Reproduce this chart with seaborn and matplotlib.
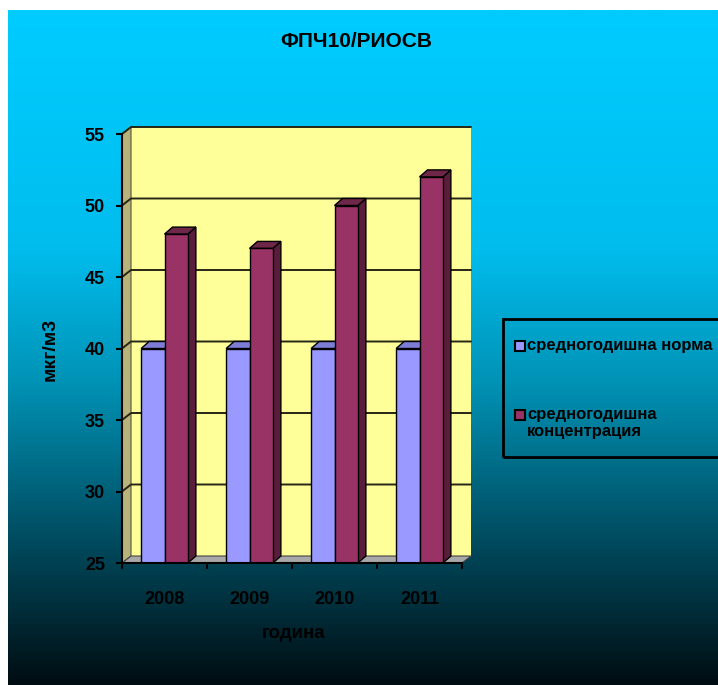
import numpy as np
import pandas as pd
import matplotlib
matplotlib.use("Agg")
import matplotlib.pyplot as plt
from matplotlib.patches import Polygon, Rectangle
from matplotlib.colors import LinearSegmentedColormap
import seaborn as sns

# ---- data ----
years = ["2008", "2009", "2010", "2011"]
series = ["средногодишна норма", "средногодишна\nконцентрация"]
norma = [40, 40, 40, 40]
koncentracia = [48, 47, 50, 52]
title = "ФПЧ10/РИОСВ"
xlabel = "година"
ylabel = "мкг/м3"
yticks = [25, 30, 35, 40, 45, 50, 55]

sns.set_theme(style="white")
plt.rcParams["font.family"] = ["Liberation Sans", "DejaVu Sans"]
plt.rcParams["font.weight"] = "bold"

W, H = 718, 685
fig = plt.figure(figsize=(W / 100, H / 100), dpi=100)
fig.patch.set_facecolor("white")

# gradient background
bg = fig.add_axes([8 / W, 0, 1 - 8 / W, 1 - 10 / H], zorder=-5)
cmap = LinearSegmentedColormap.from_list(
    "bg", [(0.0, "#00ccff"), (0.35, "#00bdee"), (0.55, "#0093b6"),
           (0.75, "#00566c"), (1.0, "#000d12")])
grad = np.linspace(0, 1, 256).reshape(-1, 1)
bg.imshow(grad, aspect="auto", cmap=cmap, extent=[0, 1, 0, 1], origin="upper")
bg.set_axis_off()

# main axes = front plane
left, right, top, bottom = 122, 462, 134, 563
ax = fig.add_axes([left / W, (H - bottom) / H, (right - left) / W, (bottom - top) / H])
ax.set_facecolor("none")

df = pd.DataFrame({
    "year": years * 2,
    "value": norma + koncentracia,
    "series": [series[0]] * 4 + [series[1]] * 4,
})
c_norm, c_conc = "#9999ff", "#993366"
sns.barplot(data=df, x="year", y="value", hue="series", palette=[c_norm, c_conc],
            width=0.55, saturation=1, edgecolor="black", linewidth=1.0,
            legend=False, ax=ax, zorder=3)

ax.set_xlim(-0.5, 3.5)
ax.set_ylim(25, 55)
ymin, ymax = 25, 55
sx = 4 / (right - left)
sy = 30 / (bottom - top)
dxw, dyw = 9 * sx, 7 * sy   # wall depth
dxb, dyb = 8 * sx, 7 * sy   # bar depth

# back wall
ax.add_patch(Polygon([(-0.5 + dxw, ymin + dyw), (3.5 + dxw, ymin + dyw),
                      (3.5 + dxw, ymax + dyw), (-0.5 + dxw, ymax + dyw)],
                     closed=True, facecolor="#ffff99", edgecolor="none",
                     clip_on=False, zorder=0))
# left side wall
ax.add_patch(Polygon([(-0.5, ymin), (-0.5 + dxw, ymin + dyw),
                      (-0.5 + dxw, ymax + dyw), (-0.5, ymax)],
                     closed=True, facecolor="#b8b37a", edgecolor="#555533",
                     linewidth=0.8, clip_on=False, zorder=0.5))
# floor
ax.add_patch(Polygon([(-0.5, ymin), (3.5, ymin), (3.5 + dxw, ymin + dyw),
                      (-0.5 + dxw, ymin + dyw)],
                     closed=True, facecolor="#a8a8a8", edgecolor="#444444",
                     linewidth=0.8, clip_on=False, zorder=0.6))
# gridlines on wall
for v in yticks[1:]:
    ax.plot([-0.5, -0.5 + dxw, 3.5 + dxw], [v, v + dyw, v + dyw],
            color="#262614", linewidth=1.4, clip_on=False, zorder=1)

# 3D faces of bars
side_cols = {c_norm: ("#6a6ab8", "#7d7dd6"), c_conc: ("#5a1e3c", "#6e2649")}
for p in list(ax.patches):
    if not isinstance(p, Rectangle) or p.get_height() <= ymin:
        continue
    x0, w, h = p.get_x(), p.get_width(), p.get_height()
    fc = matplotlib.colors.to_hex(p.get_facecolor())
    if fc not in side_cols:
        continue
    side, topc = side_cols[fc]
    z = p.get_zorder() + (0.5 if fc == c_conc else 0)
    p.set_zorder(z)
    ax.add_patch(Polygon([(x0 + w, ymin), (x0 + w + dxb, ymin + dyb),
                          (x0 + w + dxb, h + dyb), (x0 + w, h)],
                         closed=True, facecolor=side, edgecolor="black",
                         linewidth=1.0, zorder=z - 0.1, clip_on=False))
    ax.add_patch(Polygon([(x0, h), (x0 + w, h), (x0 + w + dxb, h + dyb),
                          (x0 + dxb, h + dyb)],
                         closed=True, facecolor=topc, edgecolor="black",
                         linewidth=1.0, zorder=z - 0.1, clip_on=False))

# axes styling
for s in ["top", "right"]:
    ax.spines[s].set_visible(False)
for s in ["left", "bottom"]:
    ax.spines[s].set_color("black")
    ax.spines[s].set_linewidth(1.5)
    ax.spines[s].set_zorder(6)
ax.set_yticks(yticks)
ax.set_yticklabels([str(v) for v in yticks])
ax.tick_params(axis="y", which="major", direction="out", length=4.3, width=1.5,
               color="black", pad=8, labelsize=13, labelcolor="black", left=True)
ax.set_xticks(range(len(years)))
ax.set_xticklabels(years)
ax.set_xticks([-0.5, 0.5, 1.5, 2.5, 3.5], minor=True)
ax.tick_params(axis="x", which="major", length=0, pad=20, labelsize=13,
               labelcolor="black")
ax.tick_params(axis="x", which="minor", direction="out", length=4.3, width=1.5,
               color="black", bottom=True)
for lab in ax.get_xticklabels() + ax.get_yticklabels():
    lab.set_fontweight("bold")

ax.set_xlabel(xlabel, fontsize=13.5, fontweight="bold", color="black")
ax.xaxis.set_label_coords((293.5 - left) / (right - left), -(625 - bottom) / (bottom - top))
ax.set_ylabel(ylabel, fontsize=14, fontweight="bold", color="black")
ax.yaxis.set_label_coords((59 - left) / (right - left), (bottom - 349) / (bottom - top))

fig.text(356 / W, 1 - 41.5 / H, title, ha="center", va="center",
         fontsize=15, fontweight="bold", color="black")

# legend (drawn as box + swatches + labels)
def fx(px):
    return px / W

def fy(py):
    return 1 - py / H

fig.patches.append(Rectangle((fx(503), fy(457)), fx(740) - fx(503), fy(319) - fy(457),
                             transform=fig.transFigure, facecolor="none",
                             edgecolor="black", linewidth=2, clip_on=False))
leg_y = [346, 415]
for lbl, col, yy in zip(series, [c_norm, c_conc], leg_y):
    fig.patches.append(Rectangle((fx(515), fy(yy + 5)), fx(10), 10 / H,
                                 transform=fig.transFigure, facecolor=col,
                                 edgecolor="black", linewidth=1.5))
    fig.text(fx(527), fy(yy - 8), lbl, ha="left", va="top", fontsize=12,
             fontweight="bold", color="black", linespacing=1.15)

fig.savefig("out.png", dpi=100)
